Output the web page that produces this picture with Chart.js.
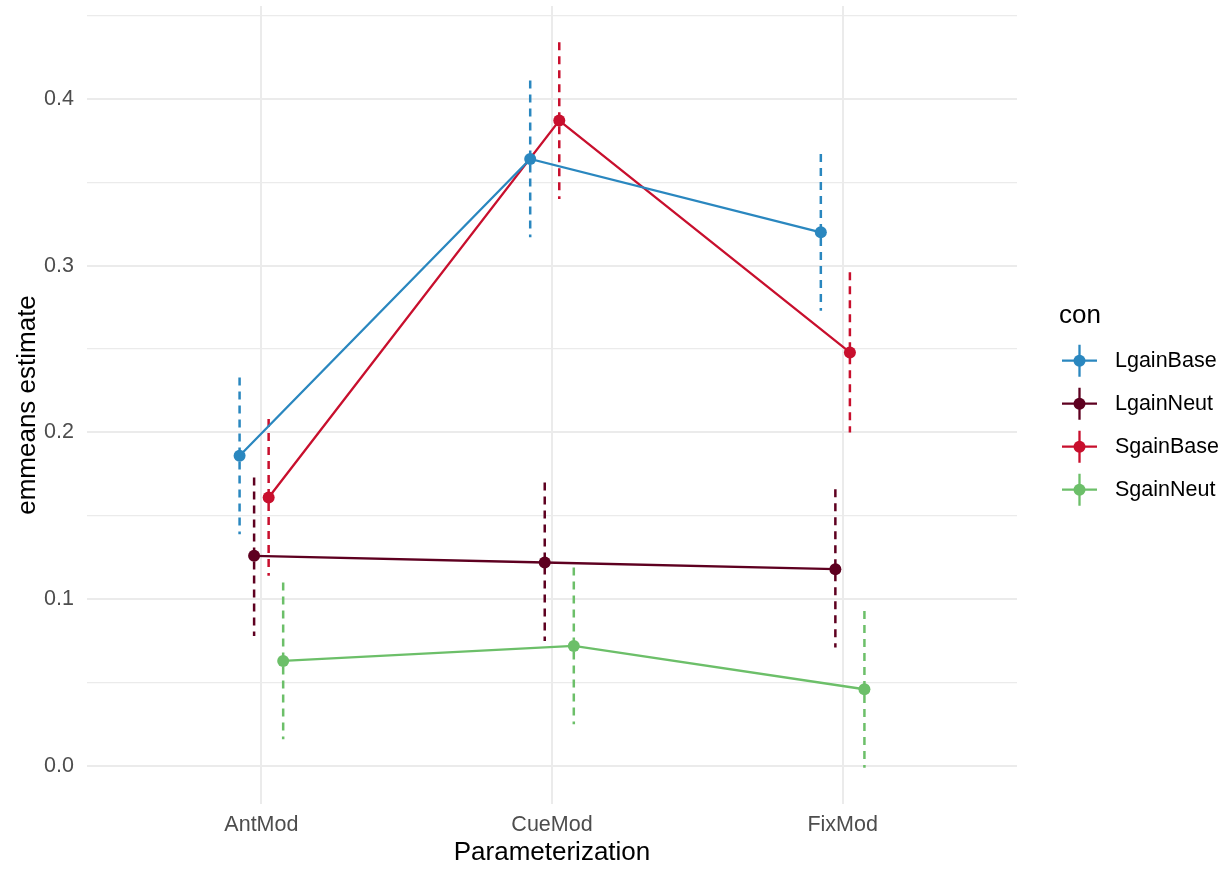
<!DOCTYPE html>
<html>
<head>
<meta charset="utf-8">
<script src="https://cdn.jsdelivr.net/npm/chart.js@4/dist/chart.umd.min.js"></script>
<style>
html,body{margin:0;padding:0;background:#fff;}
#wrap{width:1228px;height:871px;position:relative;}
</style>
</head>
<body>
<div id="wrap"><canvas id="c"></canvas></div>
<script>
// ---- data ----
const categories = ['AntMod', 'CueMod', 'FixMod'];
const seriesNames = ['LgainBase', 'LgainNeut', 'SgainBase', 'SgainNeut'];
const seriesColors = ['#2a87bf', '#5e0020', '#c80f2d', '#6cbf69'];

const LgainBase = [0.186, 0.364, 0.320];
const LgainNeut = [0.126, 0.122, 0.118];
const SgainBase = [0.161, 0.387, 0.248];
const SgainNeut = [0.063, 0.072, 0.046];

const LgainBaseLow  = [0.139, 0.317, 0.273];
const LgainBaseHigh = [0.233, 0.411, 0.367];
const LgainNeutLow  = [0.078, 0.075, 0.071];
const LgainNeutHigh = [0.173, 0.170, 0.166];
const SgainBaseLow  = [0.114, 0.340, 0.200];
const SgainBaseHigh = [0.208, 0.434, 0.296];
const SgainNeutLow  = [0.016, 0.025, -0.001];
const SgainNeutHigh = [0.110, 0.119, 0.093];

const yTicks = [0.0, 0.1, 0.2, 0.3, 0.4];

const seriesValues = [LgainBase, LgainNeut, SgainBase, SgainNeut];
const seriesLow = [LgainBaseLow, LgainNeutLow, SgainBaseLow, SgainNeutLow];
const seriesHigh = [LgainBaseHigh, LgainNeutHigh, SgainBaseHigh, SgainNeutHigh];

// ---- build datasets ----
const dodge = [-0.075, -0.025, 0.025, 0.075];
const FONT = "'Liberation Sans', Arial, Helvetica, sans-serif";
const datasets = [];
seriesNames.forEach((name, s) => {
  datasets.push({
    label: name,
    data: categories.map((c, j) => ({x: j + 1 + dodge[s], y: seriesValues[s][j]})),
    showLine: true,
    borderColor: seriesColors[s],
    backgroundColor: seriesColors[s],
    borderWidth: 2.3,
    pointRadius: 6,
    pointBorderWidth: 0,
    pointBackgroundColor: seriesColors[s],
    order: 1
  });
  categories.forEach((c, j) => {
    datasets.push({
      label: name + ' CI ' + c,
      data: [{x: j + 1 + dodge[s], y: seriesHigh[s][j]}, {x: j + 1 + dodge[s], y: seriesLow[s][j]}],
      showLine: true,
      borderColor: seriesColors[s],
      borderWidth: 2.5,
      borderDash: [8, 6],
      pointRadius: 0,
      order: 2
    });
  });
});

// ---- legend plugin ----
const legendPlugin = {
  id: 'ggLegend',
  afterDraw(chart) {
    const ctx = chart.ctx;
    ctx.save();
    ctx.fillStyle = '#000';
    ctx.font = '26px ' + FONT;
    ctx.textAlign = 'left';
    ctx.textBaseline = 'alphabetic';
    ctx.fillText('con', 1059, 323);
    seriesNames.forEach((name, i) => {
      const cy = 360.7 + i * 43;
      const cx = 1079.5;
      ctx.strokeStyle = seriesColors[i];
      ctx.lineWidth = 2.3;
      ctx.setLineDash([]);
      ctx.beginPath();
      ctx.moveTo(1062, cy); ctx.lineTo(1097, cy);
      ctx.moveTo(cx, cy - 16); ctx.lineTo(cx, cy + 16);
      ctx.stroke();
      ctx.fillStyle = seriesColors[i];
      ctx.beginPath();
      ctx.arc(cx, cy, 6, 0, Math.PI * 2);
      ctx.fill();
      ctx.fillStyle = '#000';
      ctx.font = '21.5px ' + FONT;
      ctx.textBaseline = 'middle';
      ctx.fillText(name, 1115, cy);
    });
    ctx.restore();
  }
};

// ---- chart ----
const majorSet = new Set(yTicks.map(v => v.toFixed(2)));
new Chart(document.getElementById('c'), {
  type: 'scatter',
  data: {datasets},
  plugins: [legendPlugin],
  options: {
    responsive: true,
    maintainAspectRatio: false,
    animation: false,
    events: [],
    layout: {padding: {top: 5, right: 211, bottom: 0, left: 0}},
    plugins: {legend: {display: false}, tooltip: {enabled: false}},
    scales: {
      x: {
        type: 'linear',
        min: 0.4,
        max: 3.6,
        afterBuildTicks: (s) => { s.ticks = categories.map((c, i) => ({value: i + 1})); },
        afterFit: (s) => { s.height = 67; s.paddingLeft = 0; s.paddingRight = 0; },
        ticks: {
          autoSkip: false, maxRotation: 0, padding: 8,
          color: '#4d4d4d',
          font: {family: FONT, size: 21.5},
          callback: (v) => categories[Math.round(v) - 1]
        },
        grid: {color: '#ebebeb', lineWidth: 2, drawTicks: false},
        border: {display: false},
        title: {display: true, text: 'Parameterization', color: '#000',
                font: {family: FONT, size: 26}, padding: {top: 0, bottom: 3}}
      },
      y: {
        type: 'linear',
        min: -0.0228,
        max: 0.4557,
        afterBuildTicks: (s) => {
          const t = [];
          yTicks.forEach(v => { t.push({value: v}); t.push({value: +(v + 0.05).toFixed(2)}); });
          s.ticks = t;
        },
        afterFit: (s) => { s.width = 87; s.paddingTop = 0; s.paddingBottom = 0; },
        ticks: {
          padding: 13,
          color: '#4d4d4d',
          font: {family: FONT, size: 21.5},
          callback: (v) => majorSet.has((+v).toFixed(2)) ? (+v).toFixed(1) : ''
        },
        grid: {
          color: '#ebebeb',
          lineWidth: (ctx) => (ctx.tick && majorSet.has((+ctx.tick.value).toFixed(2))) ? 2 : 1.2,
          drawTicks: false
        },
        border: {display: false},
        title: {display: true, text: 'emmeans estimate', color: '#000',
                font: {family: FONT, size: 26}, padding: {top: 12, bottom: 0}}
      }
    }
  }
});
</script>
</body>
</html>
